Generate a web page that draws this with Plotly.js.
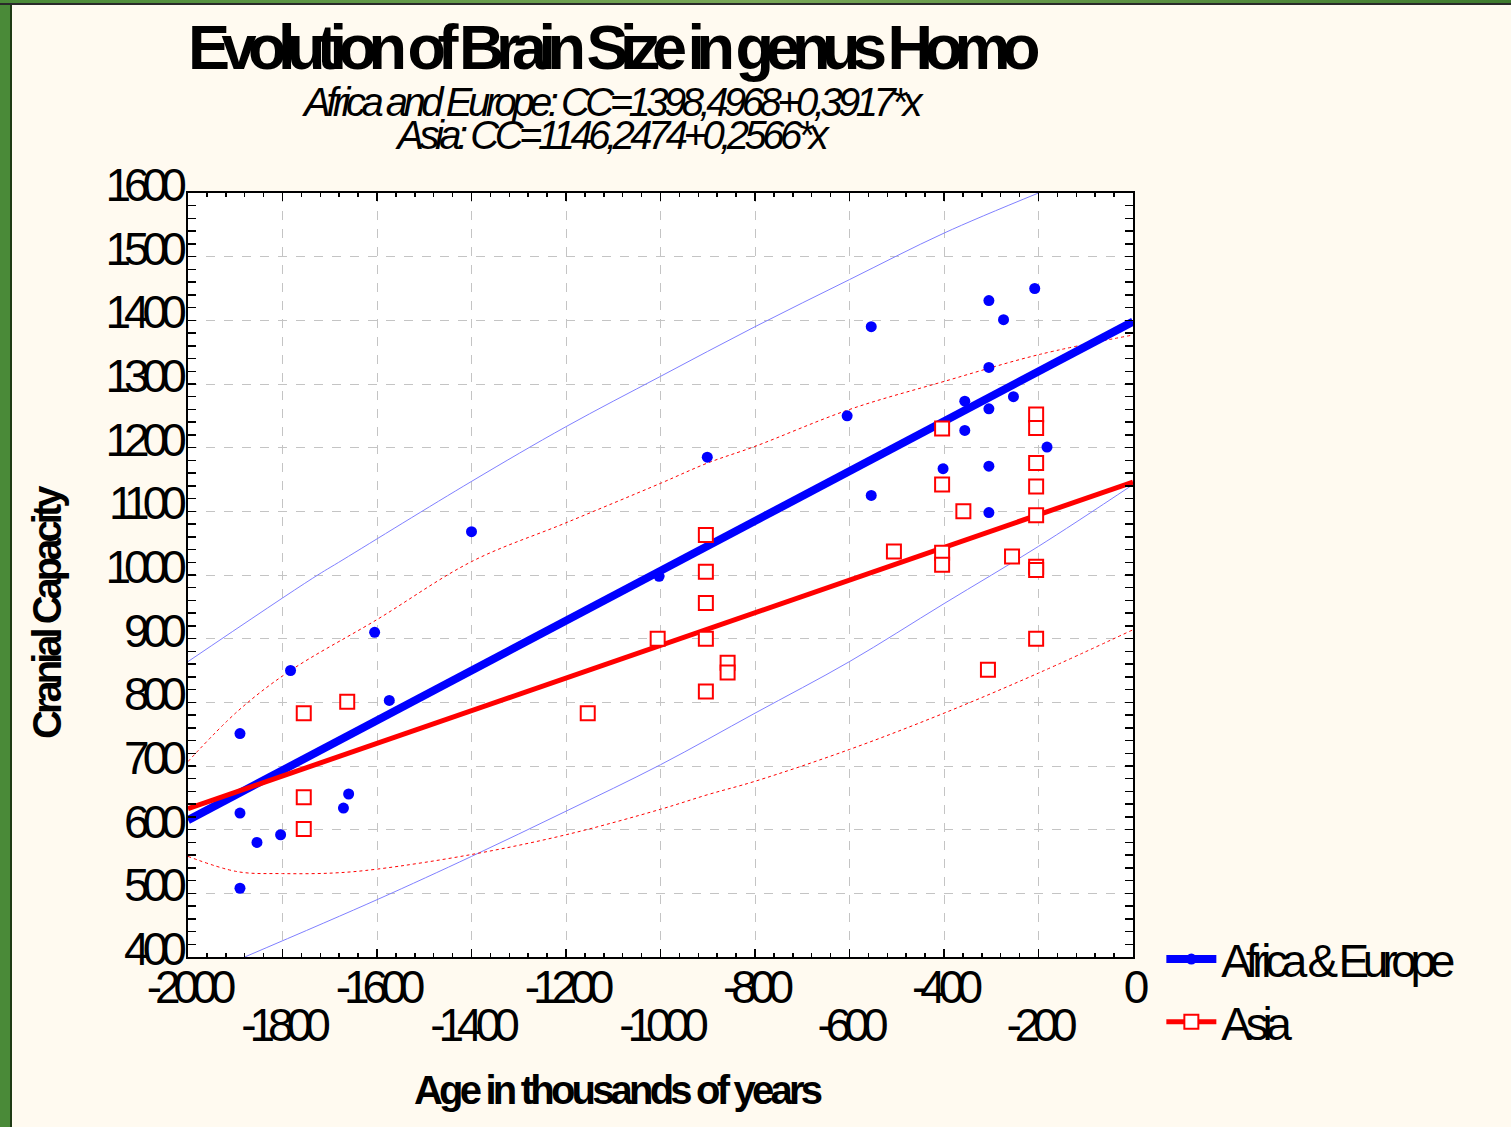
<!DOCTYPE html>
<html><head><meta charset="utf-8">
<script src="https://cdn.plot.ly/plotly-3.0.1.min.js"></script>
<style>
html,body{margin:0;padding:0;background:#FFFAF0;overflow:hidden;}
#plot{position:absolute;left:0;top:0;width:1511px;height:1127px;}
#bl{position:absolute;left:0;top:0;width:10px;height:1127px;background:#4a8a38;border-right:2px solid #1e3a14;}
#bt{position:absolute;left:0;top:0;width:1511px;height:3px;background:linear-gradient(to right,#4a8a38,#7aa858 50%,#3e7a2e);border-bottom:2px solid #2a2a2a;}
svg text{letter-spacing:-3px;}
svg text.gtitle{letter-spacing:-8.5px;}
svg g.xtick text, svg g.x2tick text, svg g.ytick text{letter-spacing:-7px;}
svg text.legendtext{letter-spacing:-6.3px;}
svg g.annotation[data-index="0"] text, svg g.annotation[data-index="1"] text{letter-spacing:-4.5px;}
svg g.annotation[data-index="2"] text{letter-spacing:-4px;}
svg g.annotation[data-index="3"] text{letter-spacing:-3.8px;}
</style></head>
<body>
<div id="plot"></div>
<div id="bl"></div><div id="bt"></div>
<script>
// Africa & Europe specimens (age in kyr, cranial capacity cc)
const afAge = [-1400,-1605,-1783,-1574,-1890,-1890,-1854,-1804,-1660,-1671,-1890,-1003,-901,-554,-605,-554,-402,-356,-356,-305,-274,-305,-305,-253,-208,-182,-305,-305];
const afCC  = [1068,910,850,803,751,626,580,592,656,634,508,998,1185,1390,1250,1125,1167,1273,1227,1431,1401,1326,1261,1280,1450,1201,1171,1098];
// Asia specimens
const asAge = [-1755,-1663,-1755,-1755,-1154,-1006,-904,-904,-904,-904,-904,-858,-858,-506,-404,-404,-404,-404,-359,-307,-256,-205,-205,-205,-205,-205,-205,-205,-205];
const asCC  = [783,801,651,601,783,900,1063,1005,956,900,817,862,847,1037,1035,1016,1142,1230,1100,851,1029,1252,1231,1176,1139,1094,1013,1008,900];
// Regression lines (endpoints)
const afFitAge = [-2000, 0];
const afFitCC  = [615, 1398];
const asFitAge = [-2000, 0];
const asFitCC  = [633, 1146];
// Prediction bands, Africa & Europe (thin blue)
const afUpAge = [-2000,-1736,-1672,-1400,-1200,-1000,-800,-600,-400,-200];
const afUpCC  = [864,995,1024,1147,1233,1312,1390,1464,1537,1600];
const afLoAge = [-1880,-1600,-1400,-1200,-1000,-800,-600,-400,-200,0];
const afLoCC  = [400,490,558,629,702,783,864,955,1045,1142];
// Prediction bands, Asia (dotted red)
const asUpAge = [-2000,-1895,-1785,-1600,-1400,-1200,-1000,-900,-800,-600,-400,-200,0];
const asUpCC  = [707,786,849,930,1021,1082,1144,1176,1202,1260,1304,1346,1377];
const asLoAge = [-2000,-1895,-1800,-1690,-1600,-1400,-1200,-1000,-900,-800,-600,-400,-200,0];
const asLoCC  = [558,534,531,532,538,561,592,632,655,676,726,783,846,914];
// Tick labels
const xTickVals = [-2000,-1800,-1600,-1400,-1200,-1000,-800,-600,-400,-200,0];
const xTickUpper = ['-2000','','-1600','','-1200','','-800','','-400','','0'];
const xLowVals = [-1800,-1400,-1000,-600,-200];
const xLowLabels = ['-1800','-1400','-1000','-600','-200'];

const FONT = '"Liberation Sans Narrow", "Arial Narrow", "Liberation Sans", Arial, sans-serif';

function sep(a){const r=[];a.forEach(v=>{r.push(v);r.push(null);});return r;}

const traces = [
  {x:afUpAge, y:afUpCC, mode:'lines', line:{color:'#8080ff', width:1, shape:'spline'}, showlegend:false, hoverinfo:'skip', xaxis:'x2'},
  {x:afLoAge, y:afLoCC, mode:'lines', line:{color:'#8080ff', width:1, shape:'spline'}, showlegend:false, hoverinfo:'skip'},
  {x:asUpAge, y:asUpCC, mode:'lines', line:{color:'#ff0000', width:1, dash:'dot', shape:'spline'}, showlegend:false, hoverinfo:'skip'},
  {x:asLoAge, y:asLoCC, mode:'lines', line:{color:'#ff0000', width:1, dash:'dot', shape:'spline'}, showlegend:false, hoverinfo:'skip'},
  {x:afFitAge, y:afFitCC, mode:'lines', line:{color:'#0000ff', width:8}, showlegend:false},
  {x:asFitAge, y:asFitCC, mode:'lines', line:{color:'#ff0000', width:5}, showlegend:false},
  {x:sep(afAge), y:sep(afCC), name:'Africa & Europe', mode:'lines+markers', connectgaps:false,
   line:{color:'#0000ff', width:8}, marker:{symbol:'circle', size:11, color:'#0000ff'}},
  {x:sep(asAge), y:sep(asCC), name:'Asia', mode:'lines+markers', connectgaps:false,
   line:{color:'#ff0000', width:5}, marker:{symbol:'square', size:14, color:'#ffffff', line:{color:'#ff0000', width:2}}}
];

const axisCommon = {ticks:'inside', ticklen:8, tickwidth:1.5, tickcolor:'#000', showline:true, linecolor:'#000', linewidth:2,
  mirror:'allticks', showgrid:true, gridcolor:'#c4c4c4', griddash:'dash', gridwidth:1, zeroline:false, tickfont:{size:46, color:'#000'}};

const layout = {
  width:1511, height:1127,
  paper_bgcolor:'#FFFAF0', plot_bgcolor:'#FFFFFF',
  margin:{l:188, r:378, t:193, b:170},
  font:{family:FONT, color:'#000'},
  title:{text:'Evolution of Brain Size in genus Homo', font:{size:63, weight:'bold', color:'#000'},
    x:610/1511, xref:'container', xanchor:'center', y:1-47/1127, yref:'container', yanchor:'middle'},
  xaxis:Object.assign({}, axisCommon, {range:[-2000,0], tickmode:'array', tickvals:xTickVals, ticktext:xTickUpper,
    ticklabelstandoff:-11,
    minor:{ticks:'inside', ticklen:4, tickmode:'linear', tick0:-2000, dtick:40, tickcolor:'#000', showgrid:false}}),
  xaxis2:{overlaying:'x', anchor:'y', side:'bottom', range:[-2000,0], tickmode:'array', tickvals:xLowVals, ticktext:xLowLabels,
    ticks:'', showline:false, showgrid:false, zeroline:false, tickfont:{size:46, color:'#000'}, ticklabelstandoff:37},
  yaxis:Object.assign({}, axisCommon, {range:[400,1600], tickmode:'linear', tick0:400, dtick:100, ticklabelshift:-8, ticklabelstandoff:-3,
    minor:{ticks:'inside', ticklen:4, tickmode:'linear', tick0:400, dtick:20, tickcolor:'#000', showgrid:false}}),
  legend:{x:1.03, xanchor:'left', y:0.045, yanchor:'top', bgcolor:'rgba(0,0,0,0)', font:{size:46, color:'#000'}, itemwidth:50},
  annotations:[
    {text:'<i>Africa and Europe: CC=1398,4968+0,3917*x</i>', xref:'paper', yref:'paper', x:(612-188)/945, y:(957-102)/764,
     xanchor:'center', yanchor:'middle', showarrow:false, font:{size:40, color:'#000'}},
    {text:'<i>Asia: CC=1146,2474+0,2566*x</i>', xref:'paper', yref:'paper', x:(612-188)/945, y:(957-135)/764,
     xanchor:'center', yanchor:'middle', showarrow:false, font:{size:40, color:'#000'}},
    {text:'<b>Cranial Capacity</b>', xref:'paper', yref:'paper', x:(47-188)/945, y:(957-613)/764, textangle:-90,
     xanchor:'center', yanchor:'middle', showarrow:false, font:{size:40, color:'#000'}},
    {text:'<b>Age in thousands of years</b>', xref:'paper', yref:'paper', x:(617-188)/945, y:(957-1090)/764,
     xanchor:'center', yanchor:'middle', showarrow:false, font:{size:40, color:'#000'}}
  ]
};

Plotly.newPlot('plot', traces, layout, {displayModeBar:false, staticPlot:true});
</script>
</body></html>
